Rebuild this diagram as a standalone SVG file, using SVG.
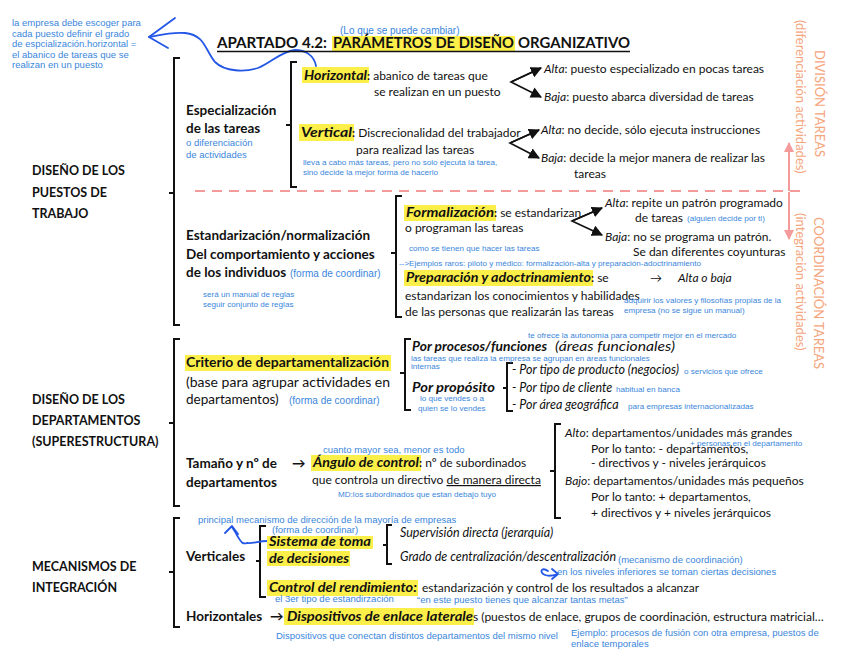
<svg xmlns="http://www.w3.org/2000/svg" width="848" height="655" viewBox="0 0 848 655">
<defs>
<style>
text{font-family:Lato,"Liberation Sans",sans-serif;font-size:12px;fill:#111}
.h{font-size:13.5px;font-weight:bold}
.hd{font-size:12.5px;font-weight:bold}
.b{font-weight:bold}
.i{font-style:italic}
.bi{font-weight:bold;font-style:italic;font-size:14px}
.n{font-family:"Liberation Sans",Arial,sans-serif;fill:#3a86dc;font-size:8.1px}
.n9{font-family:"Liberation Sans",Arial,sans-serif;fill:#3a86dc;font-size:9.5px}
.n10{font-family:"Liberation Sans",Arial,sans-serif;fill:#3a86dc;font-size:9.5px}
.o{fill:#f5a57c;font-size:13px}
.hl{fill:#fcef4a}
.br{fill:none;stroke:#111;stroke-width:2}
.ar{fill:none;stroke:#111;stroke-width:1.6}
.hand{fill:none;stroke:#2457e6;stroke-width:1.8;stroke-linecap:round;stroke-linejoin:round}
.pk{fill:none;stroke:#f59a9a;stroke-width:2}
</style>
<marker id="ah" viewBox="0 0 10 10" refX="9" refY="5" markerWidth="7" markerHeight="7" orient="auto"><path d="M0,0 L10,5 L0,10 z" fill="#111"/></marker>
<marker id="ph" viewBox="0 0 10 10" refX="9" refY="5" markerWidth="5" markerHeight="5" orient="auto"><path d="M0,0 L10,5 L0,10 z" fill="#f59a9a"/></marker>
</defs>
<rect width="848" height="655" fill="#fff"/>

<g id="connectors">
<path class="br" d="M180,58 H174 V325 H180 M174,193 H169"/>
<path class="br" d="M180,339 H174 V506 H180 M174,423 H169"/>
<path class="br" d="M180,518 H174 V627 H180 M174,572 H169"/>
<path class="br" d="M297,62 H291 V187 H297 M291,125 H286"/>
<path class="br" d="M402,196 H396 V317 H402 M396,253 H391"/>
<path class="br" d="M411,339 H405 V410 H411 M405,373 H400"/>
<path class="br" d="M513,363 H507 V411 H513 M507,388 H503"/>
<path class="br" d="M561,424 H555 V518 H561 M555,471 H550"/>
<path class="br" d="M266,526 H260 V597 H266 M260,561 H256"/>
<path class="br" d="M392,525 H387 V564 H392 M387,545 H383"/>
<path class="ar" marker-end="url(#ah)" d="M541,68 L511,82 L541,97"/>
<path class="ar" marker-end="url(#ah)" d="M511,82 L541,68"/>
<path class="ar" marker-end="url(#ah)" d="M539,130 L510,143 L539,158"/>
<path class="ar" marker-end="url(#ah)" d="M510,143 L539,130"/>
<path class="ar" marker-end="url(#ah)" d="M602,208 L572,221 L602,235"/>
<path class="ar" marker-end="url(#ah)" d="M572,221 L602,208"/>
<path class="pk" stroke-dasharray="10 7" d="M195,191 H805"/>
<path class="pk" marker-end="url(#ph)" d="M789,191 V143"/>
<path class="pk" marker-end="url(#ph)" d="M789,192 V239"/>
<path class="hand" d="M316,66 C314,55 305,50 295,50 C280,52 272,62 258,68 C245,72 225,72 215,62 C205,50 205,35 185,33 C170,32 160,35 149,37"/>
<path class="hand" d="M175,18 L149,37 L168,48"/>
<path class="hand" d="M268,541 C258,541 252,544 247,543 C242,545 240,540 238,537 C236,533 234,530 232,527 M225,533 L232,526 L238,534"/>
<path class="hand" d="M548,571 C541,566 539,573 545,575 C550,577 555,575 558,574 M552,569 L558,574 L552,579"/>
</g>

<g id="note-top">
<text class="n10" x="12" y="26">la empresa debe escoger para</text>
<text class="n10" x="12" y="36.5">cada puesto definir el grado</text>
<text class="n10" x="12" y="47">de espcialización.horizontal =</text>
<text class="n10" x="12" y="57.5">el abanico de tareas que se</text>
<text class="n10" x="12" y="68">realizan en un puesto</text>
</g>

<g id="title">
<rect class="hl" x="332" y="36" width="183" height="15"/>
<text class="n10" x="340" y="33.5" style="font-size:10px">(Lo que se puede cambiar)</text>
<text x="217" y="48" style="font-size:15px;font-weight:bold" textLength="110" lengthAdjust="spacingAndGlyphs">APARTADO 4.2:</text>
<text x="333" y="48" style="font-size:15px;font-weight:bold" textLength="181" lengthAdjust="spacingAndGlyphs">PARÁMETROS DE DISEÑO</text>
<text x="518" y="48" style="font-size:15px;font-weight:bold" textLength="112" lengthAdjust="spacingAndGlyphs">ORGANIZATIVO</text>
<line x1="217" y1="51.5" x2="630" y2="51.5" stroke="#111" stroke-width="1.3"/>
</g>

<g id="puestos">
<text class="hd" x="32" y="175">DISEÑO DE LOS</text>
<text class="hd" x="32" y="197">PUESTOS DE</text>
<text class="hd" x="32" y="218">TRABAJO</text>
</g>

<g id="especializacion">
<text class="h" x="186" y="115">Especialización</text>
<text class="h" x="186" y="133">de las tareas</text>
<text class="n10" x="186" y="146">o diferenciación</text>
<text class="n10" x="186" y="158">de actividades</text>
</g>

<g id="horizontal">
<rect class="hl" x="302" y="67" width="67" height="16"/>
<text class="bi" x="304" y="80" textLength="63" lengthAdjust="spacingAndGlyphs">Horizontal</text>
<text x="367" y="80"><tspan class="b">:</tspan> abanico de tareas que</text>
<text x="374" y="96">se realizan en un puesto</text>
<text x="544" y="73"><tspan class="i">Alta</tspan>: puesto especializado en pocas tareas</text>
<text x="544" y="101"><tspan class="i">Baja</tspan>: puesto abarca diversidad de tareas</text>
</g>

<g id="vertical">
<rect class="hl" x="299" y="124" width="55" height="17"/>
<text class="bi" x="301" y="137" textLength="51" lengthAdjust="spacingAndGlyphs">Vertical</text>
<text x="352" y="137"><tspan class="b">:</tspan> Discrecionalidad del trabajador</text>
<text x="356" y="154">para realizad las tareas</text>
<text class="n" x="303" y="165">lleva a cabo más tareas, pero no solo ejecuta la tarea,</text>
<text class="n" x="303" y="175">sino decide la mejor forma de hacerlo</text>
<text x="541" y="134"><tspan class="i">Alta</tspan>: no decide, sólo ejecuta instrucciones</text>
<text x="541" y="162"><tspan class="i">Baja</tspan>: decide la mejor manera de realizar las</text>
<text x="574" y="178">tareas</text>
</g>

<g id="side-labels">
<text class="o" transform="translate(815,50) rotate(90)">DIVISIÓN TAREAS</text>
<text class="o" transform="translate(796,20) rotate(90)">(diferenciación actividades)</text>
<text class="o" transform="translate(814,217) rotate(90)">COORDINACIÓN TAREAS</text>
<text class="o" transform="translate(796,213) rotate(90)">(integración actividades)</text>
</g>

<g id="estandarizacion">
<text class="h" x="186" y="240">Estandarización/normalización</text>
<text class="h" x="186" y="259">Del comportamiento y acciones</text>
<text class="h" x="186" y="277">de los individuos</text>
<text class="n10" x="290" y="277" style="font-size:10px">(forma de coordinar)</text>
<text class="n" x="203" y="297">será un manual de reglas</text>
<text class="n" x="203" y="307">seguir conjunto de reglas</text>
</g>

<g id="formalizacion">
<rect class="hl" x="404" y="205" width="92" height="16"/>
<text class="bi" x="406" y="217" textLength="88" lengthAdjust="spacingAndGlyphs">Formalización</text>
<text x="494" y="217"><tspan class="b">:</tspan> se estandarizan</text>
<text x="405" y="232">o programan las tareas</text>
<text class="n" x="409" y="251">como se tienen que hacer las tareas</text>
<text class="n" x="399" y="266">--&gt;Ejemplos raros: piloto y médico: formalización-alta y preparación-adoctrinamiento</text>
<text x="605" y="207"><tspan class="i">Alta</tspan>: repite un patrón programado</text>
<text x="635" y="222">de tareas</text>
<text class="n" x="687" y="221">(alguien decide por ti)</text>
<text x="605" y="241"><tspan class="i">Baja</tspan>: no se programa un patrón.</text>
<text x="633" y="256">Se dan diferentes coyunturas</text>
</g>

<g id="preparacion">
<rect class="hl" x="404" y="270" width="189" height="16"/>
<text class="bi" x="406" y="282" textLength="185" lengthAdjust="spacingAndGlyphs">Preparación y adoctrinamiento</text>
<text x="591" y="282"><tspan class="b">:</tspan> se</text>
<text x="650" y="282">→</text>
<text class="i" x="678" y="282">Alta o baja</text>
<text x="405" y="300">estandarizan los conocimientos y habilidades</text>
<text x="405" y="316">de las personas que realizarán las tareas</text>
<text class="n" x="624" y="303">adquirir los valores y filosofías propias de la</text>
<text class="n" x="624" y="313">empresa (no se sigue un manual)</text>
</g>

<g id="departamentos">
<text class="hd" x="32" y="404">DISEÑO DE LOS</text>
<text class="hd" x="32" y="425">DEPARTAMENTOS</text>
<text class="hd" x="32" y="446">(SUPERESTRUCTURA)</text>
</g>

<g id="criterio">
<rect class="hl" x="185" y="355" width="206" height="16"/>
<text class="h" x="186" y="367" textLength="203" lengthAdjust="spacingAndGlyphs">Criterio de departamentalización</text>
<text x="186" y="387" style="font-size:13.5px" textLength="204" lengthAdjust="spacingAndGlyphs">(base para agrupar actividades en</text>
<text x="186" y="404" style="font-size:13.5px">departamentos)</text>
<text class="n10" x="289" y="404" style="font-size:10px">(forma de coordinar)</text>
</g>

<g id="procesos">
<text class="n" x="528" y="338">te ofrece la autonomía para competir mejor en el mercado</text>
<text class="bi" x="412" y="351" textLength="135" lengthAdjust="spacingAndGlyphs">Por procesos/funciones</text>
<text class="i" x="555" y="351" style="font-size:14px" textLength="120" lengthAdjust="spacingAndGlyphs">(áreas funcionales)</text>
<text class="n" x="411" y="361">las tareas que realiza la empresa se agrupan en áreas funcionales</text>
<text class="n" x="411" y="369">internas</text>
</g>

<g id="proposito">
<text class="bi" x="412" y="392" textLength="83" lengthAdjust="spacingAndGlyphs">Por propósito</text>
<text class="n" x="420" y="401">lo que vendes o a</text>
<text class="n" x="418" y="411">quien se lo vendes</text>
<text class="i" x="512" y="374" style="font-size:12.5px">- Por tipo de producto (negocios)</text>
<text class="n" x="684" y="374">o servicios que ofrece</text>
<text class="i" x="512" y="392" style="font-size:12.5px">- Por tipo de cliente</text>
<text class="n" x="616" y="392">habitual en banca</text>
<text class="i" x="512" y="409" style="font-size:12.5px">- Por área geográfica</text>
<text class="n" x="628" y="409">para empresas internacionalizadas</text>
</g>

<g id="tamano">
<text class="h" x="186" y="468">Tamaño y nº de</text>
<text class="h" x="186" y="487">departamentos</text>
<text class="h" x="292" y="468">→</text>
</g>

<g id="angulo">
<text class="n10" x="323" y="453">cuanto mayor sea, menor es todo</text>
<rect class="hl" x="311" y="455" width="110" height="16"/>
<text class="bi" x="313" y="467" textLength="106" lengthAdjust="spacingAndGlyphs">Ángulo de control</text>
<text x="419" y="467"><tspan class="b">:</tspan> nº de subordinados</text>
<text x="312" y="484">que controla un directivo <tspan text-decoration="underline">de manera directa</tspan></text>
<text class="n" x="338" y="497">MD:los subordinados que estan debajo tuyo</text>
</g>

<g id="alto-bajo">
<text x="565" y="437"><tspan class="i">Alto</tspan>: departamentos/unidades más grandes</text>
<text class="n" x="690" y="446">+ personas en el departamento</text>
<text x="591" y="453">Por lo tanto: - departamentos,</text>
<text x="591" y="467">- directivos y - niveles jerárquicos</text>
<text x="565" y="485"><tspan class="i">Bajo</tspan>: departamentos/unidades más pequeños</text>
<text x="591" y="501">Por lo tanto: + departamentos,</text>
<text x="591" y="517">+ directivos y + niveles jerárquicos</text>
</g>

<g id="mecanismos">
<text class="hd" x="32" y="571">MECANISMOS DE</text>
<text class="hd" x="32" y="592">INTEGRACIÓN</text>
</g>

<g id="verticales">
<text class="n9" x="198" y="523">principal mecanismo de dirección de la mayoría de empresas</text>
<text class="n10" x="272" y="532.5">(forma de coordinar)</text>
<text class="h" x="186" y="561">Verticales</text>
</g>

<g id="sistema">
<rect class="hl" x="267" y="536" width="106" height="13"/>
<rect class="hl" x="267" y="551" width="83" height="15"/>
<text class="bi" x="269" y="546" textLength="102" lengthAdjust="spacingAndGlyphs">Sistema de toma</text>
<text class="bi" x="269" y="563" textLength="80" lengthAdjust="spacingAndGlyphs">de decisiones</text>
<text class="i" x="400" y="537" style="font-size:12.5px">Supervisión directa (jerarquía)</text>
<text class="i" x="400" y="561" style="font-size:12.5px">Grado de centralización/descentralización</text>
<text class="n9" x="618" y="563">(mecanismo de coordinación)</text>
<text class="n9" x="557" y="575">en los niveles inferiores se toman ciertas decisiones</text>
</g>

<g id="control">
<rect class="hl" x="267" y="580" width="151" height="16"/>
<text class="bi" x="269" y="592" textLength="148" lengthAdjust="spacingAndGlyphs">Control del rendimiento:</text>
<text x="422" y="592">estandarización y control de los resultados a alcanzar</text>
<text class="n9" x="275" y="602">el 3er tipo de estandirzación</text>
<text class="n9" x="417" y="603">“en este puesto tienes que alcanzar tantas metas”</text>
</g>

<g id="horizontales">
<text class="h" x="186" y="621">Horizontales</text>
<text class="h" x="270" y="621">→</text>
<rect class="hl" x="284" y="608" width="190" height="17"/>
<text class="bi" x="287" y="621" textLength="186" lengthAdjust="spacingAndGlyphs">Dispositivos de enlace laterale</text>
<text x="473" y="621">s (puestos de enlace, grupos de coordinación, estructura matricial…</text>
<text class="n9" x="276" y="639">Dispositivos que conectan distintos departamentos del mismo nivel</text>
<text class="n9" x="571" y="636">Ejemplo: procesos de fusión con otra empresa, puestos de</text>
<text class="n9" x="571" y="647">enlace temporales</text>
</g>
</svg>
